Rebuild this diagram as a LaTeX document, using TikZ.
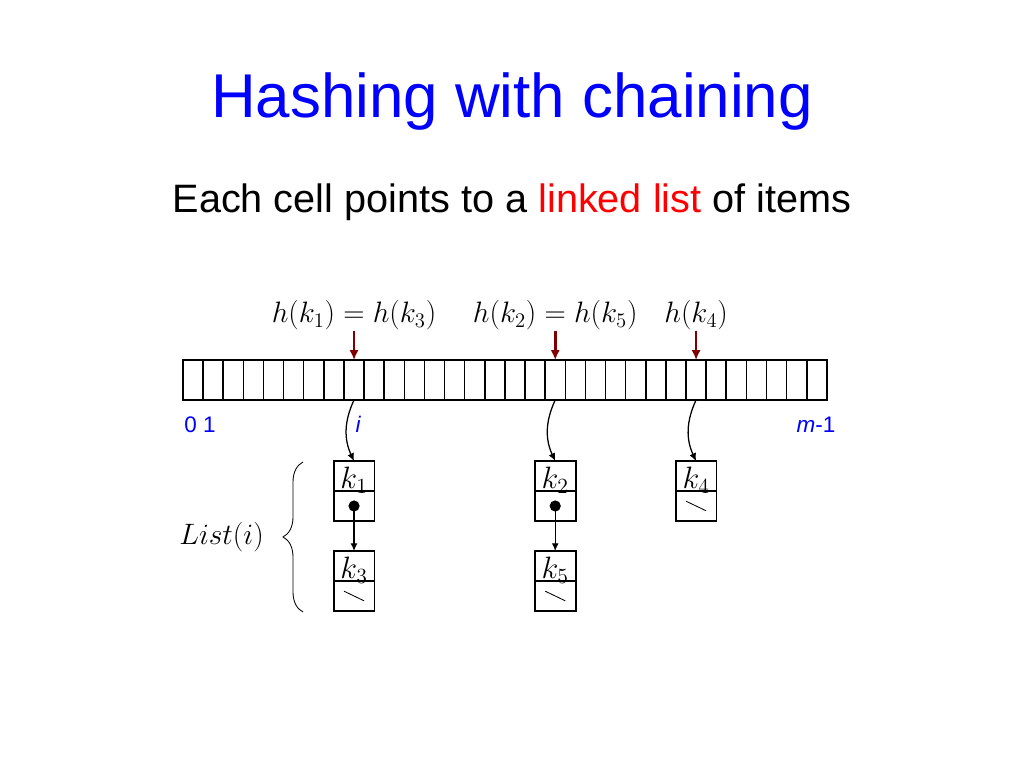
\RequirePackage{fix-cm}
\documentclass[tikz,border=0pt]{standalone}
\usepackage{amsmath}
\usepackage{fontspec}
\usetikzlibrary{positioning,decorations.pathreplacing,arrows.meta}
\newfontfamily\folienfont{Liberation Sans}
\definecolor{pfeilrot}{RGB}{128,0,0}

\begin{document}
\begin{tikzpicture}[
    zelle/.style={minimum width=0.503cm,minimum height=1cm,inner sep=0pt,outer sep=0pt},
    feld/.style={draw,line width=1.3pt,minimum width=1.02cm,minimum height=0.75cm,inner sep=0pt,outer sep=0pt,
                 text height=0.62cm,text depth=0cm,font=\fontsize{22}{26}\selectfont},
    hlabel/.style={inner sep=0pt,anchor=base,font=\fontsize{21}{25}\selectfont},
    blau/.style={inner sep=0pt,anchor=base,text=blue,font=\folienfont\fontsize{16}{19}\selectfont},
    rotpfeil/.style={-{Latex[length=7pt,width=6.5pt]},line width=2pt,pfeilrot},
    zeigerpfeil/.style={-{Latex[length=5.5pt,width=5pt]},line width=0.9pt}
]
    % Seitenrahmen
    \fill[white] (0,0) rectangle (25.6,19.2);
    \useasboundingbox (0,0) rectangle (25.6,19.2);

    % Titel und Untertitel
    \node[anchor=base,text=blue,font=\folienfont\fontsize{44}{52}\selectfont] (titel) at (12.8,16.25) {Hashing with chaining};
    \node[anchor=base,font=\folienfont\fontsize{28.2}{34}\selectfont] (untertitel) at (12.8,13.875)
        {Each cell points to a \textcolor{red}{linked list} of items};

    % Die Tabelle mit 32 Zellen
    \foreach \i in {0,1,...,31} {
        \node[zelle] (c\i) at ({4.575+(\i+0.5)*0.503},9.7) {};
    }
    \draw[line width=1.1pt] (c0.north west) rectangle (c31.south east);
    \foreach \i in {1,2,...,31} {
        \draw[line width=1.1pt] (c\i.north west) -- (c\i.south west);
    }

    % Beschriftung unter der Tabelle
    \node[blau,anchor=base west] (null) at (4.6,8.38) {0 1};
    \node[blau] (ilab) at (8.95,8.38) {\itshape i};
    \node[blau] (mlab) at (20.4,8.38) {\itshape m\upshape -1};

    % Hashwerte oben
    \node[hlabel] (l1) at (c8 |- 0,11.125) {$h(k_1)=h(k_3)$};
    \node[hlabel] (l2) at (c18 |- 0,11.125) {$h(k_2)=h(k_5)$};
    \node[hlabel] (l3) at (c25 |- 0,11.125) {$h(k_4)$};
    \draw[rotpfeil] (l1.south) -- (c8.north);
    \draw[rotpfeil] (l2.south) -- (c18.north);
    \draw[rotpfeil] (l3.south) -- (c25.north);

    % Listenelemente
    \node[feld] (k1) at (c8 |- 0,7.3) {$k_1$};
    \node[feld,below=0pt of k1] (p1) {};
    \node[feld,below=0.75cm of p1] (k3) {$k_3$};
    \node[feld,below=0pt of k3] (p3) {};
    \node[feld] (k2) at (c18 |- 0,7.3) {$k_2$};
    \node[feld,below=0pt of k2] (p2) {};
    \node[feld,below=0.75cm of p2] (k5) {$k_5$};
    \node[feld,below=0pt of k5] (p5) {};
    \node[feld] (k4) at (c25 |- 0,7.3) {$k_4$};
    \node[feld,below=0pt of k4] (p4) {};

    % Zeiger von der Tabelle zu den Listen
    \draw[zeigerpfeil] (c8.south) to[out=-115,in=115] (k1.north);
    \draw[zeigerpfeil] (c18.south) to[out=-115,in=115] (k2.north);
    \draw[zeigerpfeil] (c25.south) to[out=-115,in=115] (k4.north);

    % Zeiger innerhalb der Listen
    \foreach \a/\b in {1/3,2/5} {
        \fill (p\a.center) circle (0.14cm);
        \draw[zeigerpfeil] (p\a.center) -- (k\b.north);
    }

    % Listenende (nil)
    \foreach \e in {3,5,4} {
        \draw[line width=0.6pt] ([xshift=-0.25cm,yshift=0.12cm]p\e.center) -- ([xshift=0.25cm,yshift=-0.12cm]p\e.center);
    }

    % Klammer mit List(i)
    \draw[line width=0.6pt,decorate,decoration={brace,amplitude=0.5cm}] (7.575,3.9) -- (7.575,7.65);
    \node[anchor=east,inner sep=0pt,font=\fontsize{21}{25}\selectfont] (liste) at (6.6,5.775) {$List(i)$};
\end{tikzpicture}
\end{document}
